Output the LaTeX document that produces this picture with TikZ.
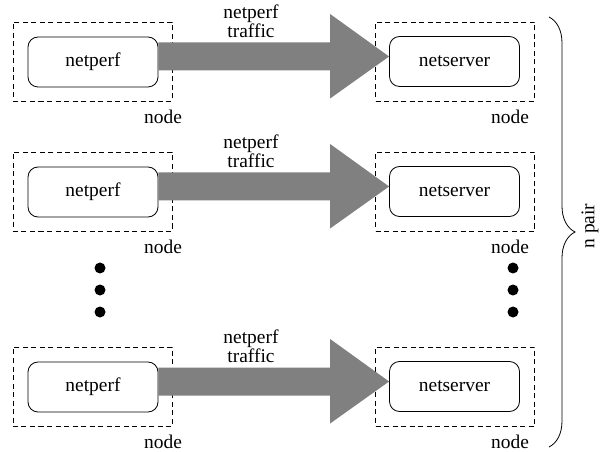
\documentclass[tikz,border=0pt]{standalone}
\usepackage{fontspec}
\setmainfont{Liberation Serif}
\newfontfamily\labelfont{Liberation Serif}
\usetikzlibrary{calc,decorations.pathreplacing}
\definecolor{flowgray}{HTML}{808080}
\begin{document}
\begin{tikzpicture}[x=1bp,y=-1bp,
  txt/.style={font=\labelfont\fontsize{19.5}{17}\selectfont, inner sep=0},
  proc/.style={txt, draw, line width=0.8bp, rounded corners=10bp,
    minimum width=130bp, minimum height=50bp},
  hostbox/.style={draw, line width=0.8bp, dash pattern=on 5bp off 3.5bp,
    minimum width=159bp, minimum height=79bp, inner sep=0},
  dot/.style={circle, fill=black, minimum size=11bp, inner sep=0},
  flow/.style={fill=flowgray}
]
\useasboundingbox (0,0) rectangle (601,452);

% one netperf -> netserver pair per row
\foreach \r/\o in {1/0, 2/130, 3/325} {
  \node[hostbox] (hl\r) at (92.5, 61.5+\o) {};
  \node[proc]    (p\r)  at (93, 62+\o) {netperf};
  \node[hostbox] (hr\r) at (455, 61.5+\o) {};
  \node[proc]    (s\r)  at (454.5, 61.5+\o) {netserver};
  \node[txt] (nl\r) at (163, 117+\o) {node};
  \node[txt] (nr\r) at (510, 117+\o) {node};
  \node[txt, align=center] (t\r) at (251, 21.5+\o) {netperf\\traffic};
  % fat traffic arrow from client to server
  \fill[flow] ($(p\r.east)+(0,-19.5)$) -| ($(s\r.west)+(-59,-47.5)$)
     -- ($(s\r.west)+(0,-5)$) -- ($(s\r.west)+(-59,37)$)
     |- ($(p\r.east)+(0,8.5)$) -- cycle;
}

% elided rows
\foreach \i/\y in {1/268, 2/290, 3/312} {
  \node[dot] (dl\i) at (100,\y) {};
  \node[dot] (dr\i) at (513,\y) {};
}

% brace grouping all pairs
\coordinate (btop) at (549,17);
\coordinate (bbot) at (549,447);
\draw[line width=0.8bp, decorate, decoration={brace, amplitude=26bp}] (btop) -- (bbot);
\node[txt, rotate=90] (np) at (590,226) {n pair};
\end{tikzpicture}
\end{document}
